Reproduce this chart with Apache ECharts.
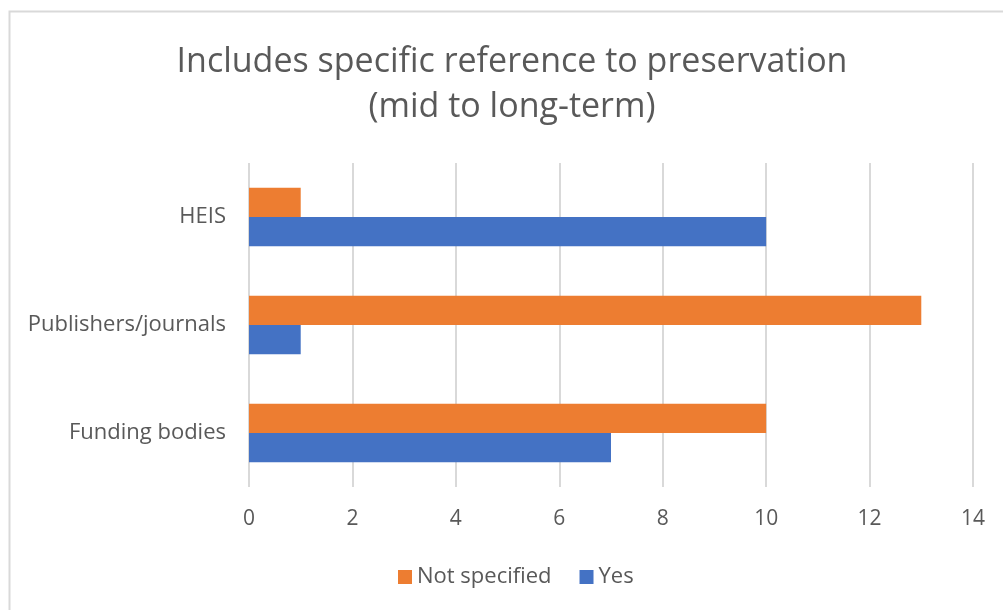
<!DOCTYPE html>
<html>
<head>
<meta charset="utf-8">
<script src="https://cdn.jsdelivr.net/npm/echarts@6/dist/echarts.min.js"></script>
<style>
html,body{margin:0;padding:0;background:#fff;}
#c{width:1003px;height:610px;}
</style>
</head>
<body>
<div id="c"></div>
<script>
const categories = ['Funding bodies', 'Publishers/journals', 'HEIS'];
const yesValues = [7, 1, 10];
const notSpecifiedValues = [10, 13, 1];
const titleLines = ['Includes specific reference to preservation', '(mid to long-term)'];
const FONT = '"Open Sans", Lato, sans-serif';

const chart = echarts.init(document.getElementById('c'), null, {renderer: 'canvas'});
chart.setOption({
  animation: false,
  backgroundColor: '#fff',
  graphic: [{
    type: 'rect',
    shape: {x: 9.5, y: 11.5, width: 1100, height: 700},
    style: {fill: 'none', stroke: '#d9d9d9', lineWidth: 2},
    silent: true
  }],
  title: {
    text: titleLines.join('\n'),
    left: 507,
    textAlign: 'center',
    top: 35,
    textStyle: {fontFamily: FONT, fontSize: 34, fontWeight: 'normal', color: '#595959', lineHeight: 45, align: 'center'}
  },
  legend: {
    data: ['Not specified', 'Yes'],
    top: 561,
    left: 393,
    itemWidth: 14,
    itemHeight: 14,
    itemGap: 28,
    itemStyle: {borderWidth: 0},
    icon: 'rect',
    textStyle: {fontFamily: FONT, fontSize: 22, color: '#595959'}
  },
  grid: {left: 249, right: 30, top: 163, bottom: 123, containLabel: false},
  xAxis: {
    type: 'value',
    min: 0, max: 14, interval: 2,
    axisLine: {show: false},
    axisTick: {show: false},
    splitLine: {show: true, lineStyle: {color: '#d9d9d9', width: 2}},
    axisLabel: {fontFamily: FONT, fontSize: 21, color: '#595959', margin: 22}
  },
  yAxis: {
    type: 'category',
    data: categories,
    axisLine: {show: false},
    axisTick: {show: false},
    axisLabel: {fontFamily: FONT, fontSize: 22, color: '#595959', margin: 23}
  },
  series: [
    {name: 'Not specified', type: 'bar', data: notSpecifiedValues, itemStyle: {color: '#ED7D31'}, barGap: '0%', barCategoryGap: '46%'},
    {name: 'Yes', type: 'bar', data: yesValues, itemStyle: {color: '#4472C4'}, barGap: '0%', barCategoryGap: '46%'}
  ]
});
</script>
</body>
</html>
